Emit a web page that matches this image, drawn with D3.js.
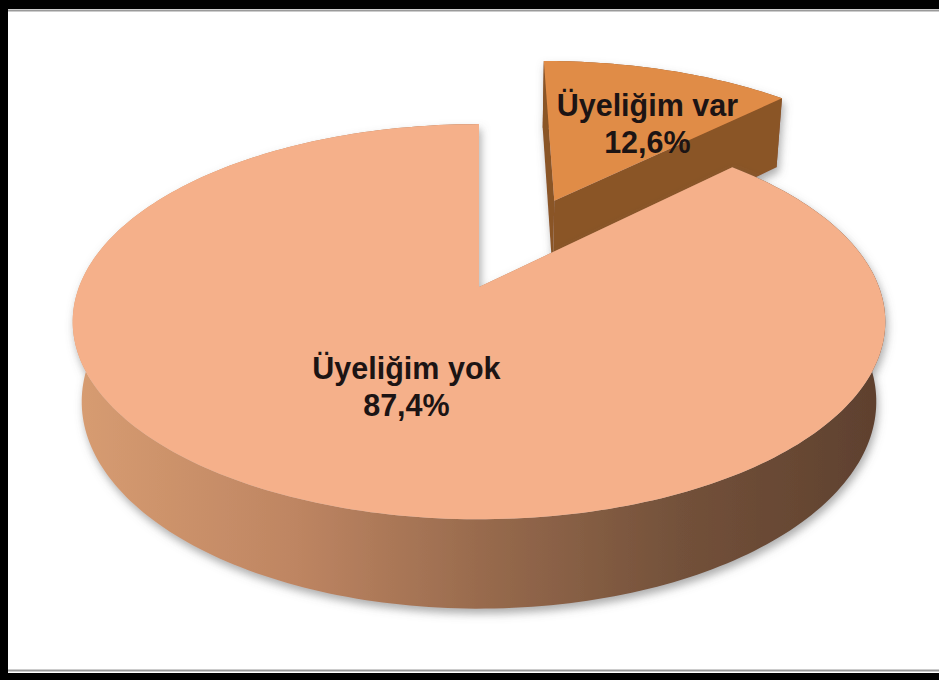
<!DOCTYPE html>
<html>
<head>
<meta charset="utf-8">
<script src="https://cdn.jsdelivr.net/npm/d3@7"></script>
<style>
  html, body { margin: 0; padding: 0; background: #fff; }
  svg { display: block; }
</style>
</head>
<body>
<svg id="chart" width="939" height="680"></svg>
<script>
  // ------------------------------------------------------------
  // Data
  // ------------------------------------------------------------
  const categories = ["Üyeliğim var", "Üyeliğim yok"];
  const values = [12.6, 87.4];

  // slice styles (top face, cut face) and explode factor
  const topColors = ["#E08C47", "#F5B08A"];
  const cutColors = ["#8A5428", "#B07C5C"];
  const explode = [0.53, 0];
  const labelShift = [[30, -4], [15, 0]];

  // ------------------------------------------------------------
  // 3D projection helpers
  // ------------------------------------------------------------
  const W = 939, H = 680;
  const view = {
    cx: 479, cy: 287, scale: 400,
    tilt: 28.6 * Math.PI / 180,
    dist: 5.0,
    depth: 0.23
  };

  function project(x, z, y) {
    const s = Math.sin(view.tilt), c = Math.cos(view.tilt);
    const d = z * c + y * s;
    const f = view.dist / (view.dist - d);
    return [view.cx + view.scale * x * f, view.cy + view.scale * (z * s - y * c) * f];
  }

  function rimPoints(ox, oz, a0, a1, y) {
    const n = Math.max(2, Math.ceil(Math.abs(a1 - a0) / 0.02));
    const pts = [];
    for (let i = 0; i <= n; i++) {
      const a = a0 + (a1 - a0) * i / n;
      pts.push(project(ox + Math.sin(a), oz - Math.cos(a), y));
    }
    return pts;
  }

  const fmt = v => d3.format(".1f")(v).replace(".", ",") + "%";

  // ------------------------------------------------------------
  // Chart
  // ------------------------------------------------------------
  const svg = d3.select("#chart");

  // frame
  svg.append("rect").attr("width", W).attr("height", H).attr("fill", "#000");
  svg.append("rect").attr("x", 8).attr("y", 9).attr("width", W - 8).attr("height", 664).attr("fill", "#fff");
  svg.append("line").attr("x1", 8).attr("x2", W).attr("y1", 10.5).attr("y2", 10.5)
    .attr("stroke", "#9a9a9a").attr("stroke-width", 2);
  svg.append("line").attr("x1", 8).attr("x2", W).attr("y1", 670.5).attr("y2", 670.5)
    .attr("stroke", "#9a9a9a").attr("stroke-width", 2);

  const defs = svg.append("defs");
  const grad = defs.append("linearGradient")
    .attr("id", "sideGrad")
    .attr("gradientUnits", "userSpaceOnUse")
    .attr("x1", 68).attr("x2", 884).attr("y1", 0).attr("y2", 0);
  [["0%", "#D89D72"], ["28%", "#BE8562"], ["52%", "#96694C"], ["75%", "#73513A"], ["100%", "#5E402E"]]
    .forEach(([o, c]) => grad.append("stop").attr("offset", o).attr("stop-color", c));

  const shadow = defs.append("filter").attr("id", "shadow")
    .attr("x", "-10%").attr("y", "-10%").attr("width", "120%").attr("height", "130%");
  shadow.append("feDropShadow")
    .attr("dx", 2).attr("dy", 5).attr("stdDeviation", 4)
    .attr("flood-color", "#6a6a6a").attr("flood-opacity", 0.55);

  const pie = d3.pie().sort(null).value(d => d.value);
  const arcs = pie(categories.map((c, i) => ({ name: c, value: values[i], i })));

  const line = d3.line();
  const h = -view.depth;

  // back slices first (exploded small slice sits behind)
  const order = arcs.slice().sort((a, b) => explode[b.data.i] - explode[a.data.i]);

  order.forEach(d => {
    const i = d.data.i;
    const mid = (d.startAngle + d.endAngle) / 2;
    const ox = explode[i] * Math.sin(mid);
    const oz = -explode[i] * Math.cos(mid);
    const g = svg.append("g").attr("class", "slice").attr("filter", "url(#shadow)");

    // outer side wall
    const topRim = rimPoints(ox, oz, d.startAngle, d.endAngle, 0);
    const botRim = rimPoints(ox, oz, d.endAngle, d.startAngle, h);
    g.append("path")
      .attr("d", line(topRim.concat(botRim)) + "Z")
      .attr("fill", i === 1 ? "url(#sideGrad)" : cutColors[i]);

    // cut faces
    [d.startAngle, d.endAngle].forEach(a => {
      const quad = [
        project(ox, oz, 0),
        project(ox + Math.sin(a), oz - Math.cos(a), 0),
        project(ox + Math.sin(a), oz - Math.cos(a), h),
        project(ox, oz, h)
      ];
      g.append("path").attr("d", line(quad) + "Z").attr("fill", cutColors[i]);
    });

    // top face
    const top = [project(ox, oz, 0)].concat(topRim);
    g.append("path").attr("d", line(top) + "Z").attr("fill", topColors[i]);

    d.labelAt = project(ox + 0.52 * Math.sin(mid), oz - 0.52 * Math.cos(mid), 0);
  });

  // labels
  arcs.forEach(d => {
    const i = d.data.i;
    const [lx, ly] = d.labelAt;
    const x = lx + labelShift[i][0], y = ly + labelShift[i][1];
    const t = svg.append("text")
      .attr("x", x).attr("y", y)
      .attr("text-anchor", "middle")
      .attr("font-family", "'Liberation Sans', Arial, sans-serif")
      .attr("font-weight", "bold")
      .attr("font-size", 30.5)
      .attr("fill", "#1c1414");
    t.append("tspan").attr("x", x).attr("dy", -8).text(d.data.name);
    t.append("tspan").attr("x", x).attr("dy", 37).text(fmt(d.data.value));
  });
</script>
</body>
</html>
